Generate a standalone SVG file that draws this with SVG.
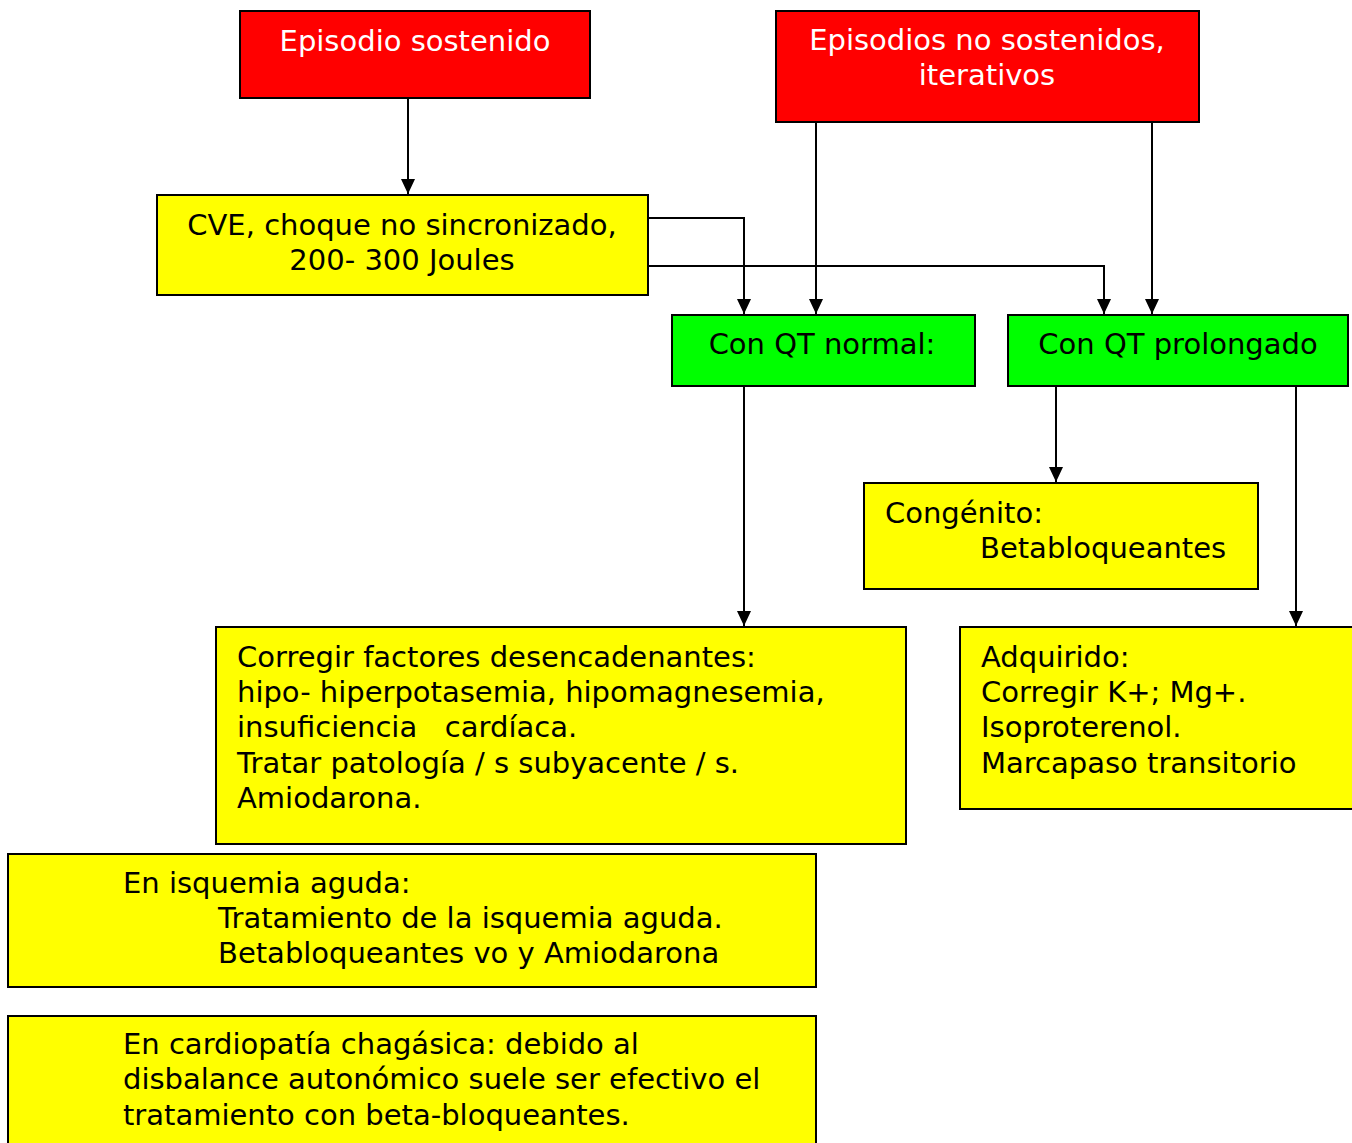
<svg xmlns="http://www.w3.org/2000/svg" width="1352" height="1143" viewBox="0 0 1352 1143">
<style>
.box{stroke:#000;stroke-width:2}
.red{fill:#ff0000}
.yel{fill:#ffff00}
.grn{fill:#00ff00}
text{font-family:"DejaVu Sans",Verdana,sans-serif;font-size:29px;fill:#000}
.w{fill:#fff}
.c{text-anchor:middle}
.ln{fill:none;stroke:#000;stroke-width:2}
</style>
<defs>
<marker id="ah" markerWidth="16" markerHeight="16" viewBox="0 0 16 16" refX="15" refY="8" orient="auto" markerUnits="userSpaceOnUse">
<path d="M0,1 L15,8 L0,15 Z" fill="#000"/>
</marker>
</defs>
<rect width="1352" height="1143" fill="#fff"/>
<g id="connectors">
<path class="ln" d="M408,98 V194" marker-end="url(#ah)"/>
<path class="ln" d="M816,122 V314" marker-end="url(#ah)"/>
<path class="ln" d="M1152,122 V314" marker-end="url(#ah)"/>
<path class="ln" d="M648,218 H744 V314" marker-end="url(#ah)"/>
<path class="ln" d="M648,266 H1104 V314" marker-end="url(#ah)"/>
<path class="ln" d="M744,386 V626" marker-end="url(#ah)"/>
<path class="ln" d="M1056,386 V482" marker-end="url(#ah)"/>
<path class="ln" d="M1296,386 V626" marker-end="url(#ah)"/>
</g>
<g id="n-sostenido">
<rect class="box red" x="240" y="11" width="350" height="87"/>
<text class="w c" x="415" y="51">Episodio sostenido</text>
</g>
<g id="n-nosostenidos">
<rect class="box red" x="776" y="11" width="423" height="111"/>
<text class="w c" x="987" y="50">Episodios no sostenidos,</text>
<text class="w c" x="987" y="85">iterativos</text>
</g>
<g id="n-cve">
<rect class="box yel" x="157" y="195" width="491" height="100"/>
<text class="c" x="402" y="235">CVE, choque no sincronizado,</text>
<text class="c" x="402" y="270">200- 300 Joules</text>
</g>
<g id="n-qtnormal">
<rect class="box grn" x="672" y="315" width="303" height="71"/>
<text class="c" x="822" y="354">Con QT normal:</text>
</g>
<g id="n-qtprolongado">
<rect class="box grn" x="1008" y="315" width="340" height="71"/>
<text class="c" x="1178" y="354">Con QT prolongado</text>
</g>
<g id="n-congenito">
<rect class="box yel" x="864" y="483" width="394" height="106"/>
<text x="885" y="523">Congénito:</text>
<text x="980" y="558">Betabloqueantes</text>
</g>
<g id="n-adquirido">
<rect class="box yel" x="960" y="627" width="400" height="182"/>
<text x="981" y="667">Adquirido:</text>
<text x="981" y="702">Corregir K+; Mg+.</text>
<text x="981" y="737">Isoproterenol.</text>
<text x="981" y="773">Marcapaso transitorio</text>
</g>
<g id="n-corregir">
<rect class="box yel" x="216" y="627" width="690" height="217"/>
<text x="237" y="667">Corregir factores desencadenantes:</text>
<text x="237" y="702">hipo- hiperpotasemia, hipomagnesemia,</text>
<text x="237" y="737" xml:space="preserve">insuficiencia   cardíaca.</text>
<text x="237" y="773">Tratar patología / s subyacente / s.</text>
<text x="237" y="808">Amiodarona.</text>
</g>
<g id="n-isquemia">
<rect class="box yel" x="8" y="854" width="808" height="133"/>
<text x="123" y="893">En isquemia aguda:</text>
<text x="218" y="928">Tratamiento de la isquemia aguda.</text>
<text x="218" y="963">Betabloqueantes vo y Amiodarona</text>
</g>
<g id="n-chagas">
<rect class="box yel" x="8" y="1016" width="808" height="140"/>
<text x="123" y="1054">En cardiopatía chagásica: debido al</text>
<text x="123" y="1089">disbalance autonómico suele ser efectivo el</text>
<text x="123" y="1125">tratamiento con beta-bloqueantes.</text>
</g>
</svg>
